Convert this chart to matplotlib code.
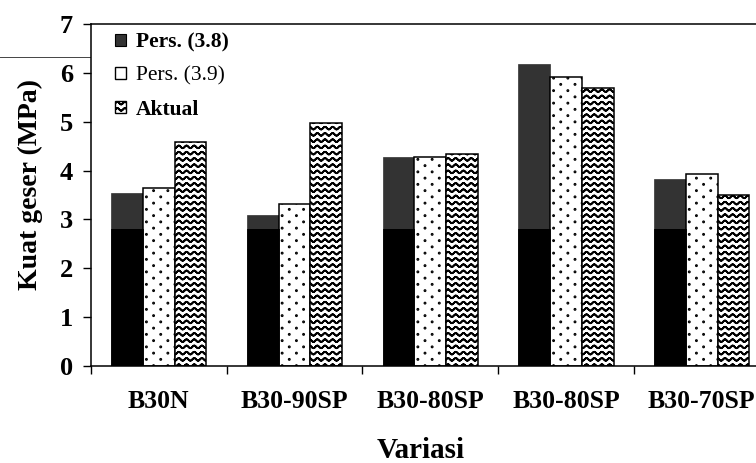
import warnings
import numpy as np
import matplotlib
matplotlib.use("Agg")
import matplotlib.pyplot as plt
from matplotlib import hatch as mhatch
from matplotlib.path import Path
from matplotlib.patches import Patch, Rectangle
from matplotlib.lines import Line2D

warnings.filterwarnings("ignore")

# ---- data -------------------------------------------------------------
categories = ["B30N", "B30-90SP", "B30-80SP", "B30-80SP", "B30-70SP"]
pers_38 = [3.55, 3.10, 4.27, 6.19, 3.82]
pers_39 = [3.65, 3.31, 4.28, 5.92, 3.93]
aktual = [4.59, 4.98, 4.33, 5.70, 3.50]
series_labels = ["Pers. (3.8)", "Pers. (3.9)", "Aktual"]
y_ticks = [0, 1, 2, 3, 4, 5, 6, 7]


# ---- custom fill patterns ---------------------------------------------
class WavyHatch(mhatch.HatchPatternBase):
    """Rows of sine waves, selected with the '~' hatch character."""
    rows = 16
    periods = 13
    pts_per_period = 12
    amplitude = 0.013

    def __init__(self, hatch, density):
        self.num_rows = self.rows if "~" in hatch else 0
        self.num_pts = self.periods * self.pts_per_period + 1
        self.num_vertices = self.num_rows * self.num_pts * 2

    def set_vertices_and_codes(self, vertices, codes):
        n = self.num_pts
        t = np.linspace(0.0, 1.0, n)
        wave = self.amplitude * np.sin(2 * np.pi * self.periods * t)
        xs = np.concatenate([t, t[::-1]])
        ws = np.concatenate([wave, wave[::-1]])
        row_codes = np.full(2 * n, Path.LINETO, dtype=Path.code_type)
        row_codes[0] = Path.MOVETO
        for r in range(self.num_rows):
            y = (r + 0.5) / self.num_rows
            seg = slice(2 * n * r, 2 * n * (r + 1))
            vertices[seg, 0] = xs
            vertices[seg, 1] = y + ws
            codes[seg] = row_codes


class SparseDotHatch(mhatch.HatchPatternBase):
    """Staggered grid of small dots, selected with the ':' hatch character."""
    rows = 16
    cols = 7
    radius = 0.0055

    def __init__(self, hatch, density):
        circ = Path.unit_circle()
        self.shape_v = circ.vertices * self.radius
        self.shape_c = circ.codes
        n_dots = self.rows * self.cols if ":" in hatch else 0
        self.num_vertices = n_dots * len(self.shape_v)

    def set_vertices_and_codes(self, vertices, codes):
        k = len(self.shape_v)
        i = 0
        for r in range(self.rows):
            y = (r + 0.5) / self.rows
            for c in range(self.cols):
                x = (c + 0.25 + 0.5 * (r % 2)) / self.cols
                vertices[i:i + k] = self.shape_v + [x, y]
                codes[i:i + k] = self.shape_c
                i += k


mhatch._hatch_types.extend([WavyHatch, SparseDotHatch])

plt.rcParams["font.family"] = ["Liberation Serif", "DejaVu Serif"]
plt.rcParams["hatch.linewidth"] = 1.3
plt.rcParams["hatch.color"] = "black"

# ---- figure -----------------------------------------------------------
fig = plt.figure(figsize=(7.56, 4.63), dpi=100)
W, H = 756.0, 463.0
x_left, x_right = 91.0, 769.5
y_top, y_bot = 24.0, 366.0
ax = fig.add_axes([x_left / W, 1 - y_bot / H,
                   (x_right - x_left) / W, (y_bot - y_top) / H])

x = np.arange(len(categories))
w = 0.234
dark = "#333333"

ax.bar(x - w, pers_38, w, color=dark, edgecolor=dark, linewidth=0.5, zorder=2)
lower = ax.bar(x - w, pers_38, w, color="black", edgecolor="black",
               linewidth=0.5, zorder=2.1)
band = Rectangle((-0.5, 0), len(categories), 2.8, transform=ax.transData)
for b in lower:
    b.set_clip_path(band)

ax.bar(x, pers_39, w, facecolor="white", edgecolor="black", linewidth=1.1,
       hatch=":", zorder=2)
ax.bar(x + w, aktual, w, facecolor="white", edgecolor="black", linewidth=1.1,
       hatch="~", zorder=2)

ax.set_xlim(-0.5, len(categories) - 0.5)
ax.set_ylim(0, 7)

# y axis
ax.set_yticks(y_ticks)
ax.set_yticklabels([str(v) for v in y_ticks], fontsize=19, fontweight="bold")
ax.tick_params(axis="y", direction="out", length=6, width=1.0, pad=7)

# x axis: boundary ticks, labels centred in each group
ax.set_xticks(np.arange(len(categories) + 1) - 0.5)
ax.set_xticklabels([""] * (len(categories) + 1))
ax.tick_params(axis="x", which="major", direction="out", length=6, width=1.0)
ax.set_xticks(x, minor=True)
ax.set_xticklabels(categories, minor=True, fontsize=18.5, fontweight="bold")
ax.tick_params(axis="x", which="minor", length=0, pad=17)

for side in ("left", "top", "bottom"):
    ax.spines[side].set_linewidth(1.1)
ax.spines["right"].set_visible(False)

fig.text(30 / W, 1 - 185 / H, "Kuat geser (MPa)", rotation=90,
         ha="center", va="center", fontsize=20, fontweight="bold")
fig.text(421 / W, 1 - 450 / H, "Variasi", ha="center", va="center",
         fontsize=21, fontweight="bold")

# legend
handles = [
    Patch(facecolor=dark, edgecolor="black", linewidth=0.8),
    Patch(facecolor="white", edgecolor="black", linewidth=1.0),
    Patch(facecolor="white", edgecolor="black", linewidth=1.0, hatch="~"),
]
leg = ax.legend(handles, series_labels, loc="upper left",
                bbox_to_anchor=(0.035, 0.975), frameon=False, fontsize=15.5,
                handlelength=0.5, handleheight=0.5, handletextpad=0.5,
                labelspacing=0.65, borderpad=0, borderaxespad=0)
for txt, wt in zip(leg.get_texts(), ["bold", "normal", "bold"]):
    txt.set_fontweight(wt)

# page header rule
yr = 1 - 57 / H
fig.add_artist(Line2D([0, 0.37], [yr, yr], color="#444444", lw=0.7, zorder=0))
fig.add_artist(Line2D([0.37, 1], [yr, yr], color="#9a9a9a", lw=0.6,
                      ls=(0, (6, 4)), zorder=0))

fig.savefig("out.png", dpi=100)
